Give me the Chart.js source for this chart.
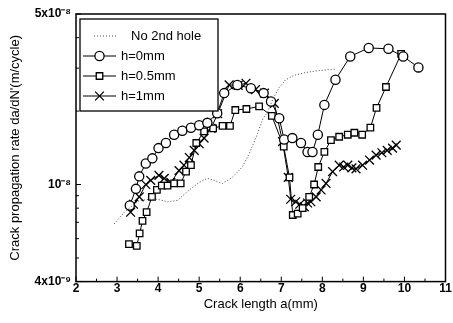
<!DOCTYPE html>
<html>
<head>
<meta charset="utf-8">
<script src="https://cdn.jsdelivr.net/npm/chart.js@4/dist/chart.umd.min.js"></script>
<style>
  html, body { margin: 0; padding: 0; background: #fff; }
</style>
</head>
<body>
<canvas id="chart" width="453" height="323"></canvas>
<script>
// crack length a (mm) and da/dN' (m/cycle)
const noHoleX = [2.93, 3.21, 3.54, 3.8, 3.98, 4.23, 4.47, 4.76, 5.0, 5.2, 5.36, 5.57, 5.81, 6.05, 6.22, 6.38, 6.54, 6.67, 6.8, 6.95, 7.1, 7.3, 7.6, 7.9, 8.3];
const noHoleY = [6.9e-9, 7.8e-9, 8.6e-9, 8.7e-9, 8.7e-9, 8.5e-9, 8.6e-9, 9.5e-9, 1.02e-8, 1.06e-8, 1.04e-8, 1.01e-8, 1.07e-8, 1.18e-8, 1.34e-8, 1.55e-8, 1.84e-8, 1.99e-8, 2.25e-8, 2.5e-8, 2.68e-8, 2.8e-8, 2.88e-8, 2.93e-8, 2.97e-8];

const h0X = [3.31, 3.46, 3.54, 3.70, 3.86, 4.01, 4.19, 4.39, 4.59, 4.80, 5.0, 5.2, 5.44, 5.61, 5.93, 6.26, 6.57, 6.75, 6.95, 7.07, 7.27, 7.48, 7.64, 7.76, 7.89, 8.05, 8.32, 8.68, 9.13, 9.61, 9.97, 10.34];
const h0Y = [8.2e-9, 9.6e-9, 1.08e-8, 1.22e-8, 1.28e-8, 1.41e-8, 1.48e-8, 1.6e-8, 1.66e-8, 1.71e-8, 1.75e-8, 1.79e-8, 1.96e-8, 2.37e-8, 2.56e-8, 2.48e-8, 2.37e-8, 2.19e-8, 1.87e-8, 1.53e-8, 1.55e-8, 1.48e-8, 1.36e-8, 1.36e-8, 1.6e-8, 2.12e-8, 2.69e-8, 3.35e-8, 3.63e-8, 3.6e-8, 3.35e-8, 3.02e-8];

const h05X = [3.29, 3.48, 3.55, 3.62, 3.72, 3.85, 3.97, 4.09, 4.23, 4.39, 4.55, 4.68, 4.80, 4.93, 5.12, 5.34, 5.57, 5.75, 5.88, 6.15, 6.46, 6.77, 7.06, 7.20, 7.28, 7.40, 7.52, 7.68, 7.80, 7.90, 8.05, 8.21, 8.41, 8.62, 8.78, 8.97, 9.17, 9.32, 9.55, 9.92];
const h05Y = [5.7e-9, 5.6e-9, 6.3e-9, 7.1e-9, 7.7e-9, 8.9e-9, 9.5e-9, 9.9e-9, 9.9e-9, 1.01e-8, 1.01e-8, 1.13e-8, 1.2e-8, 1.48e-8, 1.65e-8, 1.7e-8, 1.74e-8, 1.74e-8, 2.02e-8, 2.04e-8, 2.09e-8, 1.91e-8, 1.43e-8, 1.07e-8, 7.5e-9, 7.6e-9, 8.0e-9, 8.9e-9, 1.0e-8, 1.18e-8, 1.36e-8, 1.52e-8, 1.57e-8, 1.6e-8, 1.63e-8, 1.6e-8, 1.71e-8, 2.06e-8, 2.51e-8, 3.43e-8];

const h1X = [3.33, 3.40, 3.54, 3.70, 3.82, 4.02, 4.15, 4.31, 4.51, 4.63, 4.76, 4.88, 5.0, 5.12, 5.29, 5.45, 5.73, 5.95, 6.14, 6.37, 6.59, 6.83, 7.03, 7.17, 7.23, 7.35, 7.45, 7.56, 7.64, 7.72, 7.85, 7.97, 8.09, 8.25, 8.41, 8.52, 8.62, 8.72, 8.82, 8.98, 9.15, 9.31, 9.45, 9.58, 9.71, 9.8];
const h1Y = [7.7e-9, 8.3e-9, 8.9e-9, 1.0e-8, 1.04e-8, 1.09e-8, 1.06e-8, 1.02e-8, 1.14e-8, 1.2e-8, 1.29e-8, 1.38e-8, 1.47e-8, 1.55e-8, 1.7e-8, 1.95e-8, 2.56e-8, 2.55e-8, 2.6e-8, 2.45e-8, 2.37e-8, 2.15e-8, 1.5e-8, 1.07e-8, 8.7e-9, 8.5e-9, 8.3e-9, 8.1e-9, 8.4e-9, 8.5e-9, 8.9e-9, 9.5e-9, 1.01e-8, 1.13e-8, 1.2e-8, 1.18e-8, 1.2e-8, 1.17e-8, 1.16e-8, 1.2e-8, 1.26e-8, 1.32e-8, 1.35e-8, 1.38e-8, 1.41e-8, 1.45e-8];

const seriesNames = ['No 2nd hole', 'h=0mm', 'h=0.5mm', 'h=1mm'];

// y axis ticks (log), only three carry a label
const yTickVals = [4e-9, 5e-9, 6e-9, 7e-9, 8e-9, 9e-9, 1e-8, 2e-8, 3e-8, 4e-8, 5e-8];
const yTickText = { 4e-9: '4x10\u207B\u2079', 1e-8: '10\u207B\u2078', 5e-8: '5x10\u207B\u2078' };

const FONT = 'Liberation Sans, Arial, sans-serif';

function pts(xs, ys) {
    return xs.map((x, i) => ({ x: x, y: ys[i] }));
}

const markers = [false, 'circle', 'rect', 'crossRot'];
const markerSize = [0, 4.6, 4.6, 6.2];

function series(i, xs, ys) {
    const marker = markers[i];
    return {
        label: seriesNames[i],
        data: pts(xs, ys),
        borderColor: marker ? '#000' : '#444',
        borderWidth: 1,
        borderDash: marker ? [] : [1, 2],
        pointStyle: marker || 'circle',
        pointRadius: markerSize[i],
        pointBorderWidth: 1.3,
        pointBorderColor: '#000',
        pointBackgroundColor: '#fff',
        showLine: true,
        tension: 0,
    };
}

// frame, inward ticks and the boxed legend inside the plot
const framePlugin = {
    id: 'frame',
    afterDatasetsDraw(chart) {
        const { ctx, chartArea: a, scales } = chart;
        ctx.save();
        ctx.strokeStyle = '#000';
        ctx.lineWidth = 1.5;
        ctx.strokeRect(a.left, a.top, a.right - a.left, a.bottom - a.top);

        ctx.lineWidth = 1;
        scales.x.ticks.forEach(t => {
            const px = scales.x.getPixelForValue(t.value);
            const len = Number.isInteger(t.value) ? 5 : 3;
            ctx.beginPath();
            ctx.moveTo(px, a.bottom);
            ctx.lineTo(px, a.bottom - len);
            ctx.stroke();
        });
        scales.y.ticks.forEach(t => {
            const py = scales.y.getPixelForValue(t.value);
            const len = yTickText[t.value] ? 5 : 3;
            ctx.beginPath();
            ctx.moveTo(a.left, py);
            ctx.lineTo(a.left + len, py);
            ctx.stroke();
        });

        // legend
        const bx = a.left + 4, by = a.top + 5, bw = 138, bh = 92;
        ctx.fillStyle = '#fff';
        ctx.fillRect(bx, by, bw, bh);
        ctx.lineWidth = 1.3;
        ctx.strokeRect(bx, by, bw, bh);
        ctx.font = '13px ' + FONT;
        ctx.textBaseline = 'middle';
        const rowY = [by + 17, by + 37, by + 57, by + 77];
        chart.data.datasets.forEach((ds, i) => {
            const y = rowY[i];
            ctx.strokeStyle = ds.borderColor;
            ctx.lineWidth = 1;
            ctx.setLineDash(ds.borderDash);
            ctx.beginPath();
            if (i === 0) {
                ctx.moveTo(bx + 14, y);
                ctx.lineTo(bx + 36, y);
            } else {
                ctx.moveTo(bx + 3, y);
                ctx.lineTo(bx + 36, y);
            }
            ctx.stroke();
            ctx.setLineDash([]);
            if (markers[i]) {
                ctx.fillStyle = '#fff';
                ctx.strokeStyle = '#000';
                ctx.lineWidth = 1.3;
                Chart.helpers.drawPoint(ctx, { pointStyle: markers[i], radius: markerSize[i], rotation: 0, borderWidth: 1.3 }, bx + 19.5, y);
            }
            ctx.fillStyle = '#000';
            ctx.fillText(ds.label, i === 0 ? bx + 51 : bx + 41, y);
        });
        ctx.restore();
    }
};

const config = {
    type: 'scatter',
    data: {
        datasets: [
            series(0, noHoleX, noHoleY),
            series(1, h0X, h0Y),
            series(2, h05X, h05Y),
            series(3, h1X, h1Y),
        ],
    },
    options: {
        responsive: false,
        animation: false,
        layout: { padding: { top: 14, right: -3, left: 0, bottom: 12 } },
        plugins: {
            legend: { display: false },
            tooltip: { enabled: false },
        },
        scales: {
            x: {
                type: 'linear',
                min: 2,
                max: 11,
                grid: { display: false, drawTicks: false },
                border: { display: false },
                ticks: {
                    stepSize: 0.5,
                    padding: 0,
                    color: '#000',
                    font: { family: FONT, size: 12, weight: 'bold' },
                    callback: v => Number.isInteger(v) ? String(v) : '',
                },
                title: {
                    display: true,
                    text: 'Crack length a(mm)',
                    color: '#000',
                    font: { family: FONT, size: 13, lineHeight: 1 },
                    padding: { top: 2, bottom: 0 },
                },
            },
            y: {
                type: 'logarithmic',
                min: 4e-9,
                max: 5e-8,
                afterBuildTicks: scale => {
                    scale.ticks = yTickVals.map(v => ({ value: v }));
                },
                afterFit: scale => { scale.width = 76; },
                grid: { display: false, drawTicks: false },
                border: { display: false },
                ticks: {
                    autoSkip: false,
                    padding: 5,
                    color: '#000',
                    font: { family: FONT, size: 12, weight: 'bold' },
                    callback: v => yTickText[v] || '',
                },
                title: {
                    display: true,
                    text: "Crack propagation rate da/dN'(m/cycle)",
                    color: '#000',
                    font: { family: FONT, size: 13 },
                    padding: { top: 8, bottom: 0 },
                },
            },
        },
    },
    plugins: [framePlugin],
};

new Chart(document.getElementById('chart'), config);
</script>
</body>
</html>
